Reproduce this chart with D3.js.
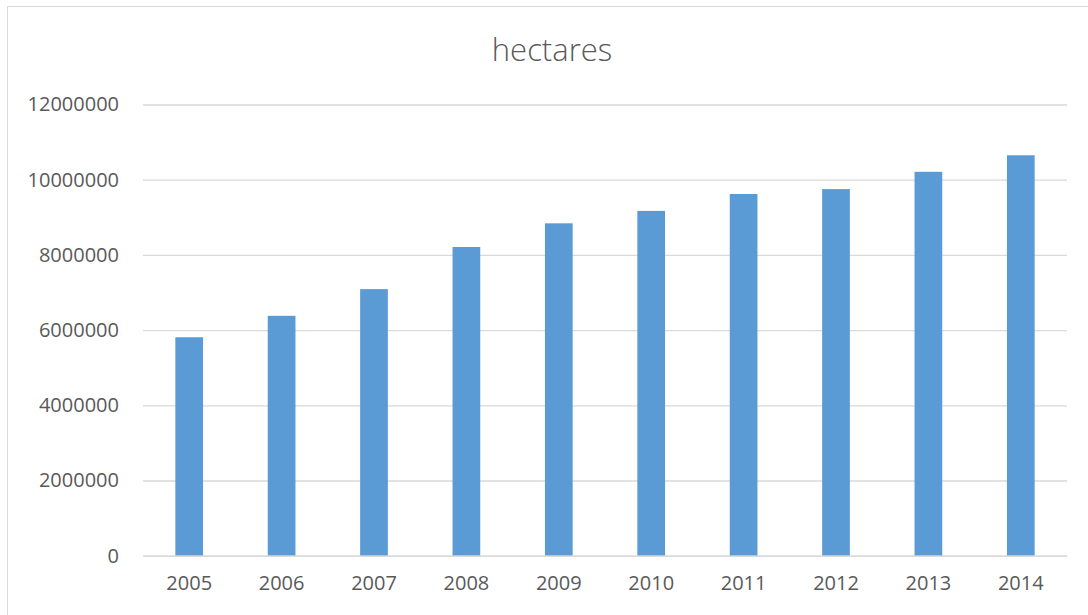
<!DOCTYPE html>
<html>
<head>
<meta charset="utf-8">
<script src="https://cdn.jsdelivr.net/npm/d3@7"></script>
<style>
  html, body { margin: 0; padding: 0; background: #fff; }
  svg { display: block; font-family: "Open Sans", "Liberation Sans", sans-serif; }
  .tick text { fill: #595959; font-size: 20px; font-family: "Open Sans", "Liberation Sans", sans-serif; }
</style>
</head>
<body>
<svg id="grafica" width="1088" height="615"></svg>
<script>
const titulo   = "hectares";
const anios    = ["2005", "2006", "2007", "2008", "2009", "2010", "2011", "2012", "2013", "2014"];
const hectares = [5810000, 6380000, 7090000, 8210000, 8840000, 9170000, 9620000, 9750000, 10210000, 10650000];
const marcasY  = [0, 2000000, 4000000, 6000000, 8000000, 10000000, 12000000];

const svg = d3.select('#grafica');

// marco del gráfico
svg.append('rect')
  .attr('x', 7.5).attr('y', 6.5)
  .attr('width', 1100).attr('height', 640)
  .attr('fill', 'none')
  .attr('stroke', '#d9d9d9')
  .attr('stroke-width', 1);

const izq = 143, der = 1067, arriba = 104.5, abajo = 555.7;

const x = d3.scaleBand()
  .domain(anios)
  .range([izq, der])
  .paddingInner(0.7)
  .paddingOuter(0.35);

const y = d3.scaleLinear()
  .domain([0, 12000000])
  .range([abajo, arriba]);

// rejilla y etiquetas del eje Y
const ejeY = svg.append('g')
  .attr('transform', `translate(${izq},0)`)
  .call(d3.axisLeft(y).tickValues(marcasY).tickFormat(d3.format('d')).tickSize(-(der - izq)).tickPadding(24));
ejeY.select('.domain').remove();
ejeY.selectAll('.tick line').attr('stroke', '#d9d9d9').attr('stroke-width', 1.3);

// barras
svg.append('g')
  .selectAll('rect.barra')
  .data(anios)
  .join('rect')
  .attr('class', 'barra')
  .attr('x', (d) => x(d))
  .attr('width', x.bandwidth())
  .attr('y', (d, i) => y(hectares[i]))
  .attr('height', (d, i) => y(0) - y(hectares[i]))
  .attr('fill', '#5b9bd5');

// eje X
const ejeX = svg.append('g')
  .attr('transform', `translate(0,${abajo})`)
  .call(d3.axisBottom(x).tickSize(0).tickPadding(20));
ejeX.select('.domain').attr('stroke', '#d9d9d9').attr('stroke-width', 1.3);

// título
svg.append('text')
  .attr('x', (izq + der) / 2 - 53)
  .attr('y', 61)
  .attr('text-anchor', 'middle')
  .attr('fill', '#595959')
  .style('font-size', '31px')
  .style('font-weight', 300)
  .text(titulo);
</script>
</body>
</html>
